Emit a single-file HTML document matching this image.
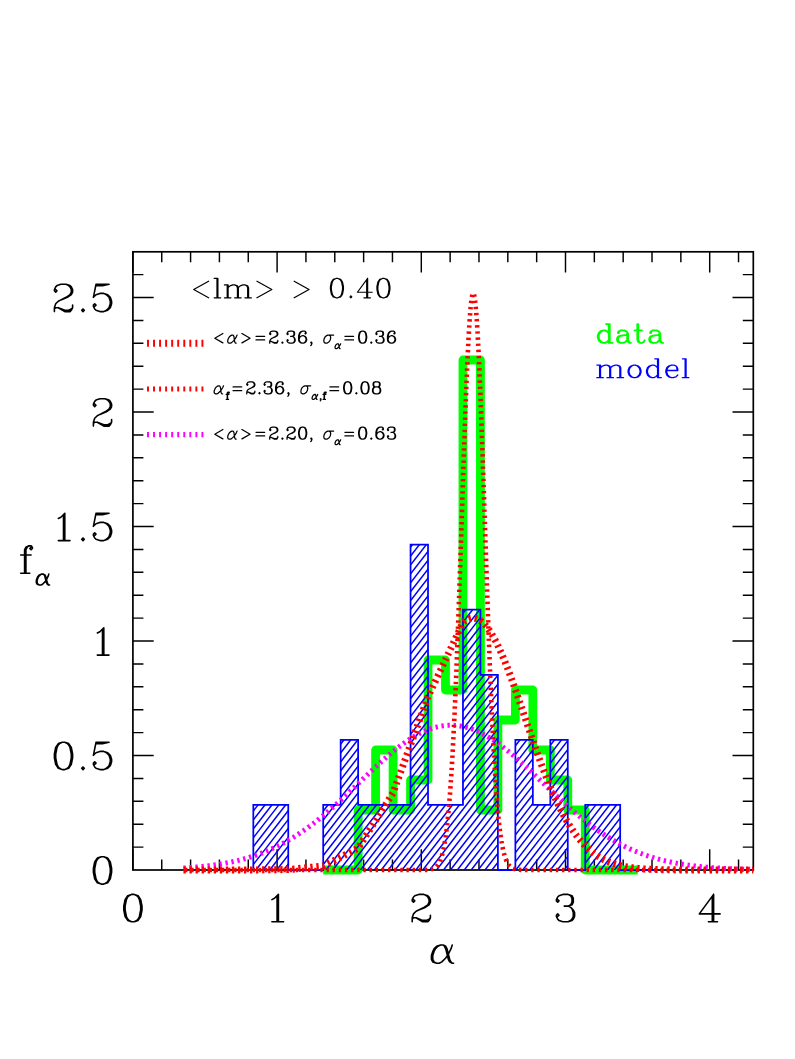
<!DOCTYPE html>
<html lang="en"><head><meta charset="utf-8"><title>chart</title><style>html,body{margin:0;padding:0;background:#fff;font-family:"Liberation Sans",sans-serif}svg{display:block}</style></head><body><svg width="795" height="1059" viewBox="0 0 795 1059">
<rect width="795" height="1059" fill="#fff"/>
<defs><clipPath id="fr"><rect x="129.9" y="251.8" width="626.4" height="622.2"/></clipPath>
<clipPath id="bc"><path d="M253.32 870 L253.32 804.93 L270.79 804.93 L288.26 804.93 L288.26 870 L305.73 870 L323.2 870 L323.2 804.93 L340.67 804.93 L340.67 739.86 L358.14 739.86 L358.14 804.93 L375.61 804.93 L393.08 804.93 L410.55 804.93 L410.55 544.65 L428.02 544.65 L428.02 804.93 L445.49 804.93 L462.96 804.93 L462.96 609.72 L480.43 609.72 L480.43 674.79 L497.9 674.79 L497.9 870 L515.37 870 L515.37 739.86 L532.84 739.86 L532.84 804.93 L550.31 804.93 L550.31 739.86 L567.78 739.86 L567.78 870 L585.25 870 L585.25 804.93 L602.72 804.93 L620.19 804.93 L620.19 870 L637.66 870 L655.13 870 Z"/></clipPath></defs>
<path d="M132.9 870 v-20.8 M132.9 251.8 v20.8 M161.74 870 v-10.5 M161.74 251.8 v10.5 M190.58 870 v-10.5 M190.58 251.8 v10.5 M219.42 870 v-10.5 M219.42 251.8 v10.5 M248.26 870 v-10.5 M248.26 251.8 v10.5 M277.1 870 v-20.8 M277.1 251.8 v20.8 M305.94 870 v-10.5 M305.94 251.8 v10.5 M334.78 870 v-10.5 M334.78 251.8 v10.5 M363.62 870 v-10.5 M363.62 251.8 v10.5 M392.46 870 v-10.5 M392.46 251.8 v10.5 M421.3 870 v-20.8 M421.3 251.8 v20.8 M450.14 870 v-10.5 M450.14 251.8 v10.5 M478.98 870 v-10.5 M478.98 251.8 v10.5 M507.82 870 v-10.5 M507.82 251.8 v10.5 M536.66 870 v-10.5 M536.66 251.8 v10.5 M565.5 870 v-20.8 M565.5 251.8 v20.8 M594.34 870 v-10.5 M594.34 251.8 v10.5 M623.18 870 v-10.5 M623.18 251.8 v10.5 M652.02 870 v-10.5 M652.02 251.8 v10.5 M680.86 870 v-10.5 M680.86 251.8 v10.5 M709.7 870 v-20.8 M709.7 251.8 v20.8 M738.54 870 v-10.5 M738.54 251.8 v10.5 M132.9 847.1 h10.5 M753.3 847.1 h-10.5 M132.9 824.2 h10.5 M753.3 824.2 h-10.5 M132.9 801.3 h10.5 M753.3 801.3 h-10.5 M132.9 778.4 h10.5 M753.3 778.4 h-10.5 M132.9 755.5 h20.8 M753.3 755.5 h-20.8 M132.9 732.6 h10.5 M753.3 732.6 h-10.5 M132.9 709.7 h10.5 M753.3 709.7 h-10.5 M132.9 686.8 h10.5 M753.3 686.8 h-10.5 M132.9 663.9 h10.5 M753.3 663.9 h-10.5 M132.9 641 h20.8 M753.3 641 h-20.8 M132.9 618.1 h10.5 M753.3 618.1 h-10.5 M132.9 595.2 h10.5 M753.3 595.2 h-10.5 M132.9 572.3 h10.5 M753.3 572.3 h-10.5 M132.9 549.4 h10.5 M753.3 549.4 h-10.5 M132.9 526.5 h20.8 M753.3 526.5 h-20.8 M132.9 503.6 h10.5 M753.3 503.6 h-10.5 M132.9 480.7 h10.5 M753.3 480.7 h-10.5 M132.9 457.8 h10.5 M753.3 457.8 h-10.5 M132.9 434.9 h10.5 M753.3 434.9 h-10.5 M132.9 412 h20.8 M753.3 412 h-20.8 M132.9 389.1 h10.5 M753.3 389.1 h-10.5 M132.9 366.2 h10.5 M753.3 366.2 h-10.5 M132.9 343.3 h10.5 M753.3 343.3 h-10.5 M132.9 320.4 h10.5 M753.3 320.4 h-10.5 M132.9 297.5 h20.8 M753.3 297.5 h-20.8 M132.9 274.6 h10.5 M753.3 274.6 h-10.5" stroke="#000" stroke-width="1.45" fill="none"/>
<rect x="132.9" y="251.8" width="620.4" height="618.2" fill="none" stroke="#000" stroke-width="1.7"/>
<path d="M323.2 870 L340.67 870 L358.14 870 L358.14 810 L375.61 810 L375.61 750 L393.08 750 L393.08 810 L410.55 810 L410.55 780 L428.02 780 L428.02 660 L445.49 660 L445.49 690 L462.96 690 L462.96 360 L480.43 360 L480.43 810 L497.9 810 L497.9 720 L515.37 720 L515.37 690 L532.84 690 L532.84 750 L550.31 750 L550.31 780 L567.78 780 L567.78 810 L585.25 810 L585.25 870 L602.72 870 L620.19 870 L637.66 870" fill="none" stroke="#00ff00" stroke-width="8.8" stroke-linejoin="round" stroke-linecap="butt"/>
<g clip-path="url(#bc)"><path d="M252.82 526.55 L252.86 526.5 M252.82 535.46 L259.77 526.5 M252.82 544.37 L266.69 526.5 M252.82 553.28 L273.61 526.5 M252.82 562.19 L280.53 526.5 M252.82 571.1 L287.45 526.5 M252.82 580.01 L288.76 533.72 M252.82 588.92 L288.76 542.63 M252.82 597.83 L288.76 551.54 M252.82 606.74 L288.76 560.45 M252.82 615.65 L288.76 569.36 M252.82 624.56 L288.76 578.27 M252.82 633.47 L288.76 587.18 M252.82 642.38 L288.76 596.09 M252.82 651.29 L288.76 605 M252.82 660.2 L288.76 613.91 M252.82 669.11 L288.76 622.82 M252.82 678.02 L288.76 631.73 M252.82 686.93 L288.76 640.64 M252.82 695.84 L288.76 649.55 M252.82 704.75 L288.76 658.46 M252.82 713.66 L288.76 667.37 M252.82 722.57 L288.76 676.28 M252.82 731.48 L288.76 685.19 M252.82 740.39 L288.76 694.1 M252.82 749.3 L288.76 703.01 M252.82 758.21 L288.76 711.92 M252.82 767.12 L288.76 720.83 M252.82 776.03 L288.76 729.74 M252.82 784.94 L288.76 738.65 M252.82 793.85 L288.76 747.56 M252.82 802.76 L288.76 756.47 M252.82 811.67 L288.76 765.38 M252.82 820.58 L288.76 774.29 M252.82 829.49 L288.76 783.2 M252.82 838.4 L288.76 792.11 M252.82 847.31 L288.76 801.02 M252.82 856.22 L288.76 809.93 M252.82 865.13 L288.76 818.84 M255.95 870 L288.76 827.75 M262.87 870 L288.76 836.66 M269.79 870 L288.76 845.57 M276.71 870 L288.76 854.48 M283.63 870 L288.76 863.39 M322.7 526.64 L322.81 526.5 M322.7 535.55 L329.73 526.5 M322.7 544.46 L336.65 526.5 M322.7 553.37 L343.56 526.5 M322.7 562.28 L350.48 526.5 M322.7 571.19 L357.4 526.5 M322.7 580.1 L364.32 526.5 M322.7 589.01 L371.23 526.5 M322.7 597.92 L378.15 526.5 M322.7 606.83 L385.07 526.5 M322.7 615.74 L391.99 526.5 M322.7 624.65 L398.91 526.5 M322.7 633.56 L405.82 526.5 M322.7 642.47 L412.74 526.5 M322.7 651.38 L419.66 526.5 M322.7 660.29 L426.58 526.5 M322.7 669.2 L433.49 526.5 M322.7 678.11 L440.41 526.5 M322.7 687.02 L447.33 526.5 M322.7 695.93 L454.25 526.5 M322.7 704.84 L461.16 526.5 M322.7 713.75 L468.08 526.5 M322.7 722.66 L475 526.5 M322.7 731.57 L481.92 526.5 M322.7 740.48 L488.84 526.5 M322.7 749.39 L495.75 526.5 M322.7 758.3 L498.4 532 M322.7 767.21 L498.4 540.91 M322.7 776.12 L498.4 549.82 M322.7 785.03 L498.4 558.73 M322.7 793.94 L498.4 567.64 M322.7 802.85 L498.4 576.55 M322.7 811.76 L498.4 585.46 M322.7 820.67 L498.4 594.37 M322.7 829.58 L498.4 603.28 M322.7 838.49 L498.4 612.19 M322.7 847.4 L498.4 621.1 M322.7 856.31 L498.4 630.01 M322.7 865.22 L498.4 638.92 M325.91 870 L498.4 647.83 M332.83 870 L498.4 656.74 M339.74 870 L498.4 665.65 M346.66 870 L498.4 674.56 M353.58 870 L498.4 683.47 M360.5 870 L498.4 692.38 M367.41 870 L498.4 701.29 M374.33 870 L498.4 710.2 M381.25 870 L498.4 719.11 M388.17 870 L498.4 728.02 M395.09 870 L498.4 736.93 M402 870 L498.4 745.84 M408.92 870 L498.4 754.75 M415.84 870 L498.4 763.66 M422.76 870 L498.4 772.57 M429.67 870 L498.4 781.48 M436.59 870 L498.4 790.39 M443.51 870 L498.4 799.3 M450.43 870 L498.4 808.21 M457.34 870 L498.4 817.12 M464.26 870 L498.4 826.03 M471.18 870 L498.4 834.94 M478.1 870 L498.4 843.85 M485.02 870 L498.4 852.76 M491.93 870 L498.4 861.67 M514.87 532.61 L519.61 526.5 M514.87 541.52 L526.53 526.5 M514.87 550.43 L533.45 526.5 M514.87 559.34 L540.36 526.5 M514.87 568.25 L547.28 526.5 M514.87 577.16 L554.2 526.5 M514.87 586.07 L561.12 526.5 M514.87 594.98 L568.04 526.5 M514.87 603.89 L568.28 535.1 M514.87 612.8 L568.28 544.01 M514.87 621.71 L568.28 552.92 M514.87 630.62 L568.28 561.83 M514.87 639.53 L568.28 570.74 M514.87 648.44 L568.28 579.65 M514.87 657.35 L568.28 588.56 M514.87 666.26 L568.28 597.47 M514.87 675.17 L568.28 606.38 M514.87 684.08 L568.28 615.29 M514.87 692.99 L568.28 624.2 M514.87 701.9 L568.28 633.11 M514.87 710.81 L568.28 642.02 M514.87 719.72 L568.28 650.93 M514.87 728.63 L568.28 659.84 M514.87 737.54 L568.28 668.75 M514.87 746.45 L568.28 677.66 M514.87 755.36 L568.28 686.57 M514.87 764.27 L568.28 695.48 M514.87 773.18 L568.28 704.39 M514.87 782.09 L568.28 713.3 M514.87 791 L568.28 722.21 M514.87 799.91 L568.28 731.12 M514.87 808.82 L568.28 740.03 M514.87 817.73 L568.28 748.94 M514.87 826.64 L568.28 757.85 M514.87 835.55 L568.28 766.76 M514.87 844.46 L568.28 775.67 M514.87 853.37 L568.28 784.58 M514.87 862.28 L568.28 793.49 M515.79 870 L568.28 802.4 M522.71 870 L568.28 811.31 M529.63 870 L568.28 820.22 M536.55 870 L568.28 829.13 M543.46 870 L568.28 838.04 M550.38 870 L568.28 846.95 M557.3 870 L568.28 855.86 M564.22 870 L568.28 864.77 M584.75 534.01 L590.58 526.5 M584.75 542.92 L597.5 526.5 M584.75 551.83 L604.42 526.5 M584.75 560.74 L611.34 526.5 M584.75 569.65 L618.25 526.5 M584.75 578.56 L620.69 532.27 M584.75 587.47 L620.69 541.18 M584.75 596.38 L620.69 550.09 M584.75 605.29 L620.69 559 M584.75 614.2 L620.69 567.91 M584.75 623.11 L620.69 576.82 M584.75 632.02 L620.69 585.73 M584.75 640.93 L620.69 594.64 M584.75 649.84 L620.69 603.55 M584.75 658.75 L620.69 612.46 M584.75 667.66 L620.69 621.37 M584.75 676.57 L620.69 630.28 M584.75 685.48 L620.69 639.19 M584.75 694.39 L620.69 648.1 M584.75 703.3 L620.69 657.01 M584.75 712.21 L620.69 665.92 M584.75 721.12 L620.69 674.83 M584.75 730.03 L620.69 683.74 M584.75 738.94 L620.69 692.65 M584.75 747.85 L620.69 701.56 M584.75 756.76 L620.69 710.47 M584.75 765.67 L620.69 719.38 M584.75 774.58 L620.69 728.29 M584.75 783.49 L620.69 737.2 M584.75 792.4 L620.69 746.11 M584.75 801.31 L620.69 755.02 M584.75 810.22 L620.69 763.93 M584.75 819.13 L620.69 772.84 M584.75 828.04 L620.69 781.75 M584.75 836.95 L620.69 790.66 M584.75 845.86 L620.69 799.57 M584.75 854.77 L620.69 808.48 M584.75 863.68 L620.69 817.39 M586.76 870 L620.69 826.3 M593.68 870 L620.69 835.21 M600.6 870 L620.69 844.12 M607.52 870 L620.69 853.03 M614.43 870 L620.69 861.94" stroke="#0000ff" stroke-width="1.5" fill="none"/></g>
<path d="M253.32 870 L253.32 804.93 L270.79 804.93 L288.26 804.93 L288.26 870 L305.73 870 L323.2 870 L323.2 804.93 L340.67 804.93 L340.67 739.86 L358.14 739.86 L358.14 804.93 L375.61 804.93 L393.08 804.93 L410.55 804.93 L410.55 544.65 L428.02 544.65 L428.02 804.93 L445.49 804.93 L462.96 804.93 L462.96 609.72 L480.43 609.72 L480.43 674.79 L497.9 674.79 L497.9 870 L515.37 870 L515.37 739.86 L532.84 739.86 L532.84 804.93 L550.31 804.93 L550.31 739.86 L567.78 739.86 L567.78 870 L585.25 870 L585.25 804.93 L602.72 804.93 L620.19 804.93 L620.19 870 L637.66 870 L655.13 870" fill="none" stroke="#0000ff" stroke-width="1.75" stroke-linejoin="miter"/>
<g clip-path="url(#fr)" fill="none" stroke-dasharray="2.35 3.7">
<path d="M183.44 868.02 L184.44 867.96 L185.44 867.89 L186.44 867.82 L187.44 867.75 L188.44 867.68 L189.44 867.6 L190.44 867.53 L191.44 867.45 L192.44 867.37 L193.44 867.29 L194.44 867.2 L195.44 867.11 L196.44 867.02 L197.44 866.93 L198.44 866.84 L199.44 866.74 L200.44 866.64 L201.44 866.54 L202.44 866.43 L203.44 866.33 L204.44 866.22 L205.44 866.1 L206.44 865.99 L207.44 865.87 L208.44 865.74 L209.44 865.62 L210.44 865.49 L211.44 865.36 L212.44 865.22 L213.44 865.09 L214.44 864.94 L215.44 864.8 L216.44 864.65 L217.44 864.5 L218.44 864.34 L219.44 864.18 L220.44 864.02 L221.44 863.85 L222.44 863.68 L223.44 863.5 L224.44 863.33 L225.44 863.14 L226.44 862.95 L227.44 862.76 L228.44 862.57 L229.44 862.37 L230.44 862.16 L231.44 861.95 L232.44 861.74 L233.44 861.52 L234.44 861.29 L235.44 861.07 L236.44 860.83 L237.44 860.59 L238.44 860.35 L239.44 860.1 L240.44 859.85 L241.44 859.59 L242.44 859.32 L243.44 859.05 L244.44 858.78 L245.44 858.5 L246.44 858.21 L247.44 857.92 L248.44 857.62 L249.44 857.32 L250.44 857.01 L251.44 856.69 L252.44 856.37 L253.44 856.04 L254.44 855.71 L255.44 855.37 L256.44 855.02 L257.44 854.67 L258.44 854.31 L259.44 853.95 L260.44 853.57 L261.44 853.2 L262.44 852.81 L263.44 852.42 L264.44 852.02 L265.44 851.61 L266.44 851.2 L267.44 850.78 L268.44 850.35 L269.44 849.92 L270.44 849.48 L271.44 849.03 L272.44 848.58 L273.44 848.11 L274.44 847.65 L275.44 847.17 L276.44 846.68 L277.44 846.19 L278.44 845.69 L279.44 845.19 L280.44 844.67 L281.44 844.15 L282.44 843.62 L283.44 843.08 L284.44 842.54 L285.44 841.99 L286.44 841.43 L287.44 840.86 L288.44 840.28 L289.44 839.7 L290.44 839.11 L291.44 838.51 L292.44 837.9 L293.44 837.29 L294.44 836.67 L295.44 836.04 L296.44 835.4 L297.44 834.76 L298.44 834.1 L299.44 833.44 L300.44 832.77 L301.44 832.1 L302.44 831.41 L303.44 830.72 L304.44 830.02 L305.44 829.32 L306.44 828.6 L307.44 827.88 L308.44 827.15 L309.44 826.42 L310.44 825.67 L311.44 824.92 L312.44 824.17 L313.44 823.4 L314.44 822.63 L315.44 821.85 L316.44 821.06 L317.44 820.27 L318.44 819.47 L319.44 818.66 L320.44 817.85 L321.44 817.03 L322.44 816.21 L323.44 815.37 L324.44 814.54 L325.44 813.69 L326.44 812.84 L327.44 811.98 L328.44 811.12 L329.44 810.25 L330.44 809.38 L331.44 808.5 L332.44 807.62 L333.44 806.73 L334.44 805.83 L335.44 804.93 L336.44 804.03 L337.44 803.12 L338.44 802.21 L339.44 801.29 L340.44 800.37 L341.44 799.45 L342.44 798.52 L343.44 797.59 L344.44 796.65 L345.44 795.71 L346.44 794.77 L347.44 793.83 L348.44 792.88 L349.44 791.93 L350.44 790.98 L351.44 790.03 L352.44 789.07 L353.44 788.12 L354.44 787.16 L355.44 786.2 L356.44 785.24 L357.44 784.28 L358.44 783.32 L359.44 782.35 L360.44 781.39 L361.44 780.43 L362.44 779.47 L363.44 778.51 L364.44 777.55 L365.44 776.59 L366.44 775.64 L367.44 774.68 L368.44 773.73 L369.44 772.78 L370.44 771.83 L371.44 770.88 L372.44 769.94 L373.44 769 L374.44 768.06 L375.44 767.13 L376.44 766.2 L377.44 765.27 L378.44 764.35 L379.44 763.44 L380.44 762.53 L381.44 761.62 L382.44 760.72 L383.44 759.83 L384.44 758.94 L385.44 758.05 L386.44 757.18 L387.44 756.31 L388.44 755.45 L389.44 754.59 L390.44 753.75 L391.44 752.91 L392.44 752.08 L393.44 751.25 L394.44 750.44 L395.44 749.63 L396.44 748.84 L397.44 748.05 L398.44 747.27 L399.44 746.51 L400.44 745.75 L401.44 745 L402.44 744.27 L403.44 743.54 L404.44 742.83 L405.44 742.13 L406.44 741.43 L407.44 740.75 L408.44 740.09 L409.44 739.43 L410.44 738.79 L411.44 738.16 L412.44 737.54 L413.44 736.94 L414.44 736.35 L415.44 735.77 L416.44 735.21 L417.44 734.66 L418.44 734.12 L419.44 733.6 L420.44 733.09 L421.44 732.6 L422.44 732.12 L423.44 731.66 L424.44 731.21 L425.44 730.78 L426.44 730.36 L427.44 729.96 L428.44 729.57 L429.44 729.2 L430.44 728.85 L431.44 728.51 L432.44 728.19 L433.44 727.88 L434.44 727.6 L435.44 727.32 L436.44 727.07 L437.44 726.83 L438.44 726.61 L439.44 726.4 L440.44 726.21 L441.44 726.04 L442.44 725.89 L443.44 725.75 L444.44 725.63 L445.44 725.53 L446.44 725.44 L447.44 725.37 L448.44 725.32 L449.44 725.29 L450.44 725.27 L451.44 725.27 L452.44 725.29 L453.44 725.33 L454.44 725.38 L455.44 725.45 L456.44 725.54 L457.44 725.65 L458.44 725.77 L459.44 725.91 L460.44 726.07 L461.44 726.24 L462.44 726.43 L463.44 726.64 L464.44 726.86 L465.44 727.11 L466.44 727.36 L467.44 727.64 L468.44 727.93 L469.44 728.24 L470.44 728.56 L471.44 728.9 L472.44 729.26 L473.44 729.63 L474.44 730.02 L475.44 730.43 L476.44 730.84 L477.44 731.28 L478.44 731.73 L479.44 732.19 L480.44 732.67 L481.44 733.17 L482.44 733.68 L483.44 734.2 L484.44 734.74 L485.44 735.29 L486.44 735.86 L487.44 736.44 L488.44 737.03 L489.44 737.64 L490.44 738.26 L491.44 738.89 L492.44 739.53 L493.44 740.19 L494.44 740.86 L495.44 741.54 L496.44 742.24 L497.44 742.94 L498.44 743.66 L499.44 744.38 L500.44 745.12 L501.44 745.87 L502.44 746.63 L503.44 747.4 L504.44 748.18 L505.44 748.96 L506.44 749.76 L507.44 750.57 L508.44 751.38 L509.44 752.21 L510.44 753.04 L511.44 753.88 L512.44 754.73 L513.44 755.58 L514.44 756.45 L515.44 757.32 L516.44 758.19 L517.44 759.08 L518.44 759.97 L519.44 760.86 L520.44 761.76 L521.44 762.67 L522.44 763.58 L523.44 764.5 L524.44 765.42 L525.44 766.34 L526.44 767.27 L527.44 768.21 L528.44 769.15 L529.44 770.09 L530.44 771.03 L531.44 771.98 L532.44 772.93 L533.44 773.88 L534.44 774.83 L535.44 775.79 L536.44 776.74 L537.44 777.7 L538.44 778.66 L539.44 779.62 L540.44 780.58 L541.44 781.55 L542.44 782.51 L543.44 783.47 L544.44 784.43 L545.44 785.39 L546.44 786.35 L547.44 787.31 L548.44 788.27 L549.44 789.22 L550.44 790.18 L551.44 791.13 L552.44 792.08 L553.44 793.03 L554.44 793.98 L555.44 794.92 L556.44 795.86 L557.44 796.8 L558.44 797.74 L559.44 798.67 L560.44 799.59 L561.44 800.52 L562.44 801.44 L563.44 802.36 L564.44 803.27 L565.44 804.17 L566.44 805.08 L567.44 805.98 L568.44 806.87 L569.44 807.76 L570.44 808.64 L571.44 809.52 L572.44 810.39 L573.44 811.26 L574.44 812.12 L575.44 812.98 L576.44 813.82 L577.44 814.67 L578.44 815.51 L579.44 816.34 L580.44 817.16 L581.44 817.98 L582.44 818.79 L583.44 819.6 L584.44 820.4 L585.44 821.19 L586.44 821.97 L587.44 822.75 L588.44 823.52 L589.44 824.29 L590.44 825.04 L591.44 825.79 L592.44 826.54 L593.44 827.27 L594.44 828 L595.44 828.72 L596.44 829.43 L597.44 830.14 L598.44 830.83 L599.44 831.52 L600.44 832.21 L601.44 832.88 L602.44 833.55 L603.44 834.21 L604.44 834.86 L605.44 835.5 L606.44 836.14 L607.44 836.77 L608.44 837.39 L609.44 838 L610.44 838.61 L611.44 839.2 L612.44 839.79 L613.44 840.37 L614.44 840.95 L615.44 841.51 L616.44 842.07 L617.44 842.62 L618.44 843.17 L619.44 843.7 L620.44 844.23 L621.44 844.75 L622.44 845.27 L623.44 845.77 L624.44 846.27 L625.44 846.76 L626.44 847.24 L627.44 847.72 L628.44 848.19 L629.44 848.65 L630.44 849.1 L631.44 849.55 L632.44 849.99 L633.44 850.42 L634.44 850.85 L635.44 851.27 L636.44 851.68 L637.44 852.08 L638.44 852.48 L639.44 852.87 L640.44 853.26 L641.44 853.63 L642.44 854 L643.44 854.37 L644.44 854.73 L645.44 855.08 L646.44 855.42 L647.44 855.76 L648.44 856.1 L649.44 856.42 L650.44 856.74 L651.44 857.06 L652.44 857.37 L653.44 857.67 L654.44 857.97 L655.44 858.26 L656.44 858.54 L657.44 858.82 L658.44 859.1 L659.44 859.37 L660.44 859.63 L661.44 859.89 L662.44 860.14 L663.44 860.39 L664.44 860.63 L665.44 860.87 L666.44 861.1 L667.44 861.33 L668.44 861.55 L669.44 861.77 L670.44 861.98 L671.44 862.19 L672.44 862.4 L673.44 862.6 L674.44 862.79 L675.44 862.98 L676.44 863.17 L677.44 863.35 L678.44 863.53 L679.44 863.71 L680.44 863.88 L681.44 864.04 L682.44 864.21 L683.44 864.37 L684.44 864.52 L685.44 864.67 L686.44 864.82 L687.44 864.97 L688.44 865.11 L689.44 865.25 L690.44 865.38 L691.44 865.51 L692.44 865.64 L693.44 865.76 L694.44 865.89 L695.44 866 L696.44 866.12 L697.44 866.23 L698.44 866.34 L699.44 866.45 L700.44 866.56 L701.44 866.66 L702.44 866.76 L703.44 866.85 L704.44 866.95 L705.44 867.04 L706.44 867.13 L707.44 867.22 L708.44 867.3 L709.44 867.38 L710.44 867.46 L711.44 867.54 L712.44 867.62 L713.44 867.69 L714.44 867.76 L715.44 867.83 L716.44 867.9 L717.44 867.97 L718.44 868.03 L719.44 868.09 L720.44 868.15 L721.44 868.21 L722.44 868.27 L723.44 868.32 L724.44 868.38 L725.44 868.43 L726.44 868.48 L727.44 868.53 L728.44 868.58 L729.44 868.63 L730.44 868.67 L731.44 868.72 L732.44 868.76 L733.44 868.8 L734.44 868.84 L735.44 868.88 L736.44 868.92 L737.44 868.95 L738.44 868.99 L739.44 869.02 L740.44 869.06 L741.44 869.09 L742.44 869.12 L743.44 869.15 L744.44 869.18 L745.44 869.21 L746.44 869.24 L747.44 869.26 L748.44 869.29 L749.44 869.31 L750.44 869.34 L751.44 869.36 L752.44 869.38 L753.3 869.4" stroke="#ff00ff" stroke-width="5.0"/>
<path d="M183.44 870 L184.44 870 L185.44 870 L186.44 870 L187.44 870 L188.44 870 L189.44 870 L190.44 870 L191.44 870 L192.44 870 L193.44 870 L194.44 870 L195.44 870 L196.44 870 L197.44 870 L198.44 870 L199.44 870 L200.44 870 L201.44 870 L202.44 870 L203.44 870 L204.44 870 L205.44 870 L206.44 870 L207.44 870 L208.44 870 L209.44 870 L210.44 870 L211.44 870 L212.44 870 L213.44 870 L214.44 870 L215.44 870 L216.44 870 L217.44 870 L218.44 870 L219.44 870 L220.44 870 L221.44 870 L222.44 870 L223.44 870 L224.44 870 L225.44 870 L226.44 870 L227.44 870 L228.44 870 L229.44 870 L230.44 870 L231.44 870 L232.44 870 L233.44 870 L234.44 870 L235.44 870 L236.44 870 L237.44 870 L238.44 870 L239.44 870 L240.44 870 L241.44 870 L242.44 870 L243.44 870 L244.44 870 L245.44 870 L246.44 870 L247.44 870 L248.44 870 L249.44 870 L250.44 870 L251.44 870 L252.44 870 L253.44 870 L254.44 870 L255.44 870 L256.44 870 L257.44 870 L258.44 870 L259.44 870 L260.44 870 L261.44 870 L262.44 870 L263.44 870 L264.44 870 L265.44 870 L266.44 870 L267.44 870 L268.44 870 L269.44 870 L270.44 870 L271.44 870 L272.44 870 L273.44 870 L274.44 870 L275.44 870 L276.44 870 L277.44 870 L278.44 870 L279.44 870 L280.44 870 L281.44 870 L282.44 870 L283.44 870 L284.44 870 L285.44 870 L286.44 870 L287.44 870 L288.44 870 L289.44 870 L290.44 870 L291.44 870 L292.44 870 L293.44 870 L294.44 870 L295.44 870 L296.44 870 L297.44 870 L298.44 870 L299.44 870 L300.44 870 L301.44 870 L302.44 870 L303.44 870 L304.44 870 L305.44 870 L306.44 870 L307.44 870 L308.44 870 L309.44 870 L310.44 870 L311.44 870 L312.44 870 L313.44 870 L314.44 870 L315.44 870 L316.44 870 L317.44 870 L318.44 870 L319.44 870 L320.44 870 L321.44 870 L322.44 870 L323.44 870 L324.44 870 L325.44 870 L326.44 870 L327.44 870 L328.44 870 L329.44 870 L330.44 870 L331.44 870 L332.44 870 L333.44 870 L334.44 870 L335.44 870 L336.44 870 L337.44 870 L338.44 870 L339.44 870 L340.44 870 L341.44 870 L342.44 870 L343.44 870 L344.44 870 L345.44 870 L346.44 870 L347.44 870 L348.44 870 L349.44 870 L350.44 870 L351.44 870 L352.44 870 L353.44 870 L354.44 870 L355.44 870 L356.44 870 L357.44 870 L358.44 870 L359.44 870 L360.44 870 L361.44 870 L362.44 870 L363.44 870 L364.44 870 L365.44 870 L366.44 870 L367.44 870 L368.44 870 L369.44 870 L370.44 870 L371.44 870 L372.44 870 L373.44 870 L374.44 870 L375.44 870 L376.44 870 L377.44 870 L378.44 870 L379.44 870 L380.44 870 L381.44 870 L382.44 870 L383.44 870 L384.44 870 L385.44 870 L386.44 870 L387.44 870 L388.44 870 L389.44 870 L390.44 870 L391.44 870 L392.44 870 L393.44 870 L394.44 870 L395.44 870 L396.44 870 L397.44 870 L398.44 870 L399.44 870 L400.44 870 L401.44 870 L402.44 870 L403.44 870 L404.44 870 L405.44 870 L406.44 870 L407.44 870 L408.44 870 L409.44 870 L410.44 870 L411.44 870 L412.44 870 L413.44 870 L414.44 870 L415.44 870 L416.44 870 L417.44 870 L418.44 869.99 L419.44 869.99 L420.44 869.98 L421.44 869.98 L422.44 869.96 L423.44 869.95 L424.44 869.92 L425.44 869.89 L426.44 869.84 L427.44 869.78 L428.44 869.69 L429.44 869.57 L430.44 869.4 L431.44 869.18 L432.44 868.88 L433.44 868.49 L434.44 867.97 L435.44 867.29 L436.44 866.41 L437.44 865.29 L438.44 863.86 L439.44 862.05 L440.44 859.8 L441.44 857 L442.44 853.55 L443.44 849.35 L444.44 844.27 L445.44 838.18 L446.44 830.94 L447.44 822.42 L448.44 812.47 L449.44 800.95 L450.44 787.76 L451.44 772.78 L452.44 755.92 L453.44 737.15 L454.44 716.45 L455.44 693.86 L456.44 669.44 L457.44 643.36 L458.44 615.8 L459.44 587.02 L460.44 557.35 L461.44 527.14 L462.44 496.84 L463.44 466.89 L464.44 437.81 L465.44 410.09 L466.44 384.26 L467.44 360.82 L468.44 340.24 L469.44 322.96 L470.44 309.34 L471.44 299.69 L472.44 294.21 L473.44 293.03 L474.44 296.18 L475.44 303.58 L476.44 315.08 L477.44 330.41 L478.44 349.24 L479.44 371.18 L480.44 395.77 L481.44 422.52 L482.44 450.93 L483.44 480.47 L484.44 510.64 L485.44 540.95 L486.44 570.97 L487.44 600.28 L488.44 628.53 L489.44 655.45 L490.44 680.79 L491.44 704.39 L492.44 726.13 L493.44 745.95 L494.44 763.85 L495.44 779.84 L496.44 793.99 L497.44 806.4 L498.44 817.19 L499.44 826.47 L500.44 834.39 L501.44 841.09 L502.44 846.7 L503.44 851.37 L504.44 855.21 L505.44 858.35 L506.44 860.89 L507.44 862.93 L508.44 864.55 L509.44 865.83 L510.44 866.84 L511.44 867.62 L512.44 868.22 L513.44 868.68 L514.44 869.03 L515.44 869.29 L516.44 869.48 L517.44 869.63 L518.44 869.73 L519.44 869.81 L520.44 869.87 L521.44 869.91 L522.44 869.94 L523.44 869.96 L524.44 869.97 L525.44 869.98 L526.44 869.99 L527.44 869.99 L528.44 869.99 L529.44 870 L530.44 870 L531.44 870 L532.44 870 L533.44 870 L534.44 870 L535.44 870 L536.44 870 L537.44 870 L538.44 870 L539.44 870 L540.44 870 L541.44 870 L542.44 870 L543.44 870 L544.44 870 L545.44 870 L546.44 870 L547.44 870 L548.44 870 L549.44 870 L550.44 870 L551.44 870 L552.44 870 L553.44 870 L554.44 870 L555.44 870 L556.44 870 L557.44 870 L558.44 870 L559.44 870 L560.44 870 L561.44 870 L562.44 870 L563.44 870 L564.44 870 L565.44 870 L566.44 870 L567.44 870 L568.44 870 L569.44 870 L570.44 870 L571.44 870 L572.44 870 L573.44 870 L574.44 870 L575.44 870 L576.44 870 L577.44 870 L578.44 870 L579.44 870 L580.44 870 L581.44 870 L582.44 870 L583.44 870 L584.44 870 L585.44 870 L586.44 870 L587.44 870 L588.44 870 L589.44 870 L590.44 870 L591.44 870 L592.44 870 L593.44 870 L594.44 870 L595.44 870 L596.44 870 L597.44 870 L598.44 870 L599.44 870 L600.44 870 L601.44 870 L602.44 870 L603.44 870 L604.44 870 L605.44 870 L606.44 870 L607.44 870 L608.44 870 L609.44 870 L610.44 870 L611.44 870 L612.44 870 L613.44 870 L614.44 870 L615.44 870 L616.44 870 L617.44 870 L618.44 870 L619.44 870 L620.44 870 L621.44 870 L622.44 870 L623.44 870 L624.44 870 L625.44 870 L626.44 870 L627.44 870 L628.44 870 L629.44 870 L630.44 870 L631.44 870 L632.44 870 L633.44 870 L634.44 870 L635.44 870 L636.44 870 L637.44 870 L638.44 870 L639.44 870 L640.44 870 L641.44 870 L642.44 870 L643.44 870 L644.44 870 L645.44 870 L646.44 870 L647.44 870 L648.44 870 L649.44 870 L650.44 870 L651.44 870 L652.44 870 L653.44 870 L654.44 870 L655.44 870 L656.44 870 L657.44 870 L658.44 870 L659.44 870 L660.44 870 L661.44 870 L662.44 870 L663.44 870 L664.44 870 L665.44 870 L666.44 870 L667.44 870 L668.44 870 L669.44 870 L670.44 870 L671.44 870 L672.44 870 L673.44 870 L674.44 870 L675.44 870 L676.44 870 L677.44 870 L678.44 870 L679.44 870 L680.44 870 L681.44 870 L682.44 870 L683.44 870 L684.44 870 L685.44 870 L686.44 870 L687.44 870 L688.44 870 L689.44 870 L690.44 870 L691.44 870 L692.44 870 L693.44 870 L694.44 870 L695.44 870 L696.44 870 L697.44 870 L698.44 870 L699.44 870 L700.44 870 L701.44 870 L702.44 870 L703.44 870 L704.44 870 L705.44 870 L706.44 870 L707.44 870 L708.44 870 L709.44 870 L710.44 870 L711.44 870 L712.44 870 L713.44 870 L714.44 870 L715.44 870 L716.44 870 L717.44 870 L718.44 870 L719.44 870 L720.44 870 L721.44 870 L722.44 870 L723.44 870 L724.44 870 L725.44 870 L726.44 870 L727.44 870 L728.44 870 L729.44 870 L730.44 870 L731.44 870 L732.44 870 L733.44 870 L734.44 870 L735.44 870 L736.44 870 L737.44 870 L738.44 870 L739.44 870 L740.44 870 L741.44 870 L742.44 870 L743.44 870 L744.44 870 L745.44 870 L746.44 870 L747.44 870 L748.44 870 L749.44 870 L750.44 870 L751.44 870 L752.44 870 L753.3 870" stroke="#ff0000" stroke-width="4.6" stroke-dasharray="2.4 3.75" stroke-dashoffset="-1.6"/>
<path d="M183.44 870 L218.38 870 L253.32 869.97 L288.26 869.55 L323.2 866.07 L358.14 848.14 L393.08 792.81 L428.02 696.72 L462.96 622.7 L464.44 621.44 L465.44 620.7 L466.44 620.06 L467.44 619.5 L468.44 619.04 L469.44 618.67 L470.44 618.39 L471.44 618.2 L472.44 618.11 L473.44 618.11 L474.44 618.21 L475.44 618.4 L476.44 618.68 L477.44 619.05 L478.44 619.52 L479.44 620.08 L480.44 620.73 L481.44 621.47 L482.44 622.3 L483.44 623.22 L484.44 624.22 L485.44 625.32 L486.44 626.5 L487.44 627.76 L488.44 629.1 L489.44 630.53 L490.44 632.04 L491.44 633.63 L492.44 635.29 L493.44 637.02 L494.44 638.83 L495.44 640.71 L496.44 642.66 L497.44 644.68 L498.44 646.76 L499.44 648.91 L500.44 651.11 L501.44 653.38 L502.44 655.7 L503.44 658.07 L504.44 660.5 L505.44 662.97 L506.44 665.49 L507.44 668.06 L508.44 670.66 L509.44 673.31 L510.44 675.99 L511.44 678.71 L512.44 681.46 L513.44 684.24 L514.44 687.05 L515.44 689.88 L516.44 692.73 L517.44 695.6 L518.44 698.49 L519.44 701.39 L520.44 704.31 L521.44 707.24 L522.44 710.17 L523.44 713.11 L524.44 716.05 L525.44 718.99 L526.44 721.94 L527.44 724.87 L528.44 727.81 L529.44 730.73 L530.44 733.65 L531.44 736.55 L532.44 739.44 L533.44 742.32 L534.44 745.18 L535.44 748.02 L536.44 750.84 L537.44 753.63 L538.44 756.41 L539.44 759.16 L540.44 761.88 L541.44 764.57 L542.44 767.24 L543.44 769.87 L544.44 772.48 L545.44 775.05 L546.44 777.59 L547.44 780.09 L548.44 782.56 L549.44 784.99 L550.44 787.39 L551.44 789.74 L552.44 792.06 L553.44 794.34 L554.44 796.58 L555.44 798.78 L556.44 800.95 L557.44 803.06 L558.44 805.14 L559.44 807.18 L560.44 809.18 L561.44 811.13 L562.44 813.04 L563.44 814.92 L564.44 816.74 L565.44 818.53 L566.44 820.28 L567.44 821.98 L568.44 823.65 L569.44 825.27 L570.44 826.85 L571.44 828.39 L572.44 829.89 L573.44 831.35 L574.44 832.78 L575.44 834.16 L576.44 835.5 L577.44 836.81 L578.44 838.08 L579.44 839.31 L580.44 840.5 L581.44 841.66 L582.44 842.79 L583.44 843.88 L584.44 844.93 L585.44 845.95 L586.44 846.94 L587.44 847.89 L588.44 848.82 L589.44 849.71 L590.44 850.57 L591.44 851.4 L592.44 852.21 L593.44 852.98 L594.44 853.73 L595.44 854.45 L596.44 855.14 L597.44 855.81 L598.44 856.46 L599.44 857.07 L600.44 857.67 L601.44 858.24 L602.44 858.79 L603.44 859.32 L604.44 859.83 L605.44 860.31 L606.44 860.78 L607.44 861.23 L608.44 861.65 L609.44 862.07 L610.44 862.46 L611.44 862.84 L612.44 863.2 L613.44 863.54 L614.44 863.87 L615.44 864.18 L616.44 864.48 L617.44 864.77 L618.44 865.05 L619.44 865.31 L620.44 865.56 L621.44 865.79 L622.44 866.02 L623.44 866.24 L624.44 866.44 L625.44 866.64 L626.44 866.82 L627.44 867 L628.44 867.17 L629.44 867.33 L630.44 867.48 L631.44 867.62 L632.44 867.76 L633.44 867.89 L634.44 868.01 L635.44 868.12 L636.44 868.23 L637.44 868.34 L638.44 868.44 L639.44 868.53 L640.44 868.62 L641.44 868.7 L642.44 868.78 L643.44 868.86 L644.44 868.93 L645.44 868.99 L646.44 869.06 L647.44 869.11 L648.44 869.17 L649.44 869.22 L650.44 869.27 L651.44 869.32 L652.44 869.36 L653.44 869.4 L654.44 869.44 L655.44 869.48 L656.44 869.51 L657.44 869.55 L658.44 869.58 L659.44 869.6 L660.44 869.63 L661.44 869.66 L662.44 869.68 L663.44 869.7 L664.44 869.72 L665.44 869.74 L666.44 869.76 L667.44 869.77 L668.44 869.79 L669.44 869.81 L670.44 869.82 L671.44 869.83 L672.44 869.84 L673.44 869.85 L674.44 869.87 L675.44 869.88 L676.44 869.88 L677.44 869.89 L678.44 869.9 L679.44 869.91 L680.44 869.91 L681.44 869.92 L682.44 869.93 L683.44 869.93 L684.44 869.94 L685.44 869.94 L686.44 869.95 L687.44 869.95 L688.44 869.95 L689.44 869.96 L690.44 869.96 L691.44 869.96 L692.44 869.97 L693.44 869.97 L694.44 869.97 L695.44 869.97 L696.44 869.98 L697.44 869.98 L698.44 869.98 L699.44 869.98 L700.44 869.98 L701.44 869.98 L702.44 869.99 L703.44 869.99 L704.44 869.99 L705.44 869.99 L706.44 869.99 L707.44 869.99 L708.44 869.99 L709.44 869.99 L710.44 869.99 L711.44 869.99 L712.44 869.99 L713.44 869.99 L714.44 869.99 L715.44 870 L716.44 870 L717.44 870 L718.44 870 L719.44 870 L720.44 870 L721.44 870 L722.44 870 L723.44 870 L724.44 870 L725.44 870 L726.44 870 L727.44 870 L728.44 870 L729.44 870 L730.44 870 L731.44 870 L732.44 870 L733.44 870 L734.44 870 L735.44 870 L736.44 870 L737.44 870 L738.44 870 L739.44 870 L740.44 870 L741.44 870 L742.44 870 L743.44 870 L744.44 870 L745.44 870 L746.44 870 L747.44 870 L748.44 870 L749.44 870 L750.44 870 L751.44 870 L752.44 870 L753.3 870" stroke="#ff0000" stroke-width="7.0"/>
</g>
<g fill="none" stroke-dasharray="1.95 4.1">
<path d="M147 343.2 H203.4" stroke="#ff0000" stroke-width="7"/>
<path d="M147 389 H203.4" stroke="#ff0000" stroke-width="4.9"/>
<path d="M147 434.7 H203.4" stroke="#ff00ff" stroke-width="5.2"/>
</g>
<path d="M101.2 856.8 L97.3 858.1 L94.7 862 L93.4 868.5 L93.4 872.4 L94.7 878.9 L97.3 882.8 L101.2 884.1 L103.8 884.1 L107.7 882.8 L110.3 878.9 L111.6 872.4 L111.6 868.5 L110.3 862 L107.7 858.1 L103.8 856.8 L101.2 856.8 M101.2 856.8 L98.6 858.1 L97.3 859.4 L96 862 L94.7 868.5 L94.7 872.4 L96 878.9 L97.3 881.5 L98.6 882.8 L101.2 884.1 M103.8 884.1 L106.4 882.8 L107.7 881.5 L109 878.9 L110.3 872.4 L110.3 868.5 L109 862 L107.7 859.4 L106.4 858.1 L103.8 856.8" fill="none" stroke="#000" stroke-width="1.6" stroke-linecap="round" stroke-linejoin="round"/>
<path d="M62.2 742.3 L58.3 743.6 L55.7 747.5 L54.4 754 L54.4 757.9 L55.7 764.4 L58.3 768.3 L62.2 769.6 L64.8 769.6 L68.7 768.3 L71.3 764.4 L72.6 757.9 L72.6 754 L71.3 747.5 L68.7 743.6 L64.8 742.3 L62.2 742.3 M62.2 742.3 L59.6 743.6 L58.3 744.9 L57 747.5 L55.7 754 L55.7 757.9 L57 764.4 L58.3 767 L59.6 768.3 L62.2 769.6 M64.8 769.6 L67.4 768.3 L68.7 767 L70 764.4 L71.3 757.9 L71.3 754 L70 747.5 L68.7 744.9 L67.4 743.6 L64.8 742.3 M83 767 L81.7 768.3 L83 769.6 L84.3 768.3 L83 767 M96 742.3 L93.4 755.3 M93.4 755.3 L96 752.7 L99.9 751.4 L103.8 751.4 L107.7 752.7 L110.3 755.3 L111.6 759.2 L111.6 761.8 L110.3 765.7 L107.7 768.3 L103.8 769.6 L99.9 769.6 L96 768.3 L94.7 767 L93.4 764.4 L93.4 763.1 L94.7 761.8 L96 763.1 L94.7 764.4 M103.8 751.4 L106.4 752.7 L109 755.3 L110.3 759.2 L110.3 761.8 L109 765.7 L106.4 768.3 L103.8 769.6 M96 742.3 L109 742.3 M96 743.6 L102.5 743.6 L109 742.3" fill="none" stroke="#000" stroke-width="1.6" stroke-linecap="round" stroke-linejoin="round"/>
<path d="M97.3 633 L99.9 631.7 L103.8 627.8 L103.8 655.1 M102.5 629.1 L102.5 655.1 M97.3 655.1 L109 655.1" fill="none" stroke="#000" stroke-width="1.6" stroke-linecap="round" stroke-linejoin="round"/>
<path d="M58.3 518.5 L60.9 517.2 L64.8 513.3 L64.8 540.6 M63.5 514.6 L63.5 540.6 M58.3 540.6 L70 540.6 M83 538 L81.7 539.3 L83 540.6 L84.3 539.3 L83 538 M96 513.3 L93.4 526.3 M93.4 526.3 L96 523.7 L99.9 522.4 L103.8 522.4 L107.7 523.7 L110.3 526.3 L111.6 530.2 L111.6 532.8 L110.3 536.7 L107.7 539.3 L103.8 540.6 L99.9 540.6 L96 539.3 L94.7 538 L93.4 535.4 L93.4 534.1 L94.7 532.8 L96 534.1 L94.7 535.4 M103.8 522.4 L106.4 523.7 L109 526.3 L110.3 530.2 L110.3 532.8 L109 536.7 L106.4 539.3 L103.8 540.6 M96 513.3 L109 513.3 M96 514.6 L102.5 514.6 L109 513.3" fill="none" stroke="#000" stroke-width="1.6" stroke-linecap="round" stroke-linejoin="round"/>
<path d="M94.7 404 L96 405.3 L94.7 406.6 L93.4 405.3 L93.4 404 L94.7 401.4 L96 400.1 L99.9 398.8 L105.1 398.8 L109 400.1 L110.3 401.4 L111.6 404 L111.6 406.6 L110.3 409.2 L106.4 411.8 L99.9 414.4 L97.3 415.7 L94.7 418.3 L93.4 422.2 L93.4 426.1 M105.1 398.8 L107.7 400.1 L109 401.4 L110.3 404 L110.3 406.6 L109 409.2 L105.1 411.8 L99.9 414.4 M93.4 423.5 L94.7 422.2 L97.3 422.2 L103.8 424.8 L107.7 424.8 L110.3 423.5 L111.6 422.2 M97.3 422.2 L103.8 426.1 L109 426.1 L110.3 424.8 L111.6 422.2 L111.6 419.6" fill="none" stroke="#000" stroke-width="1.6" stroke-linecap="round" stroke-linejoin="round"/>
<path d="M55.7 289.5 L57 290.8 L55.7 292.1 L54.4 290.8 L54.4 289.5 L55.7 286.9 L57 285.6 L60.9 284.3 L66.1 284.3 L70 285.6 L71.3 286.9 L72.6 289.5 L72.6 292.1 L71.3 294.7 L67.4 297.3 L60.9 299.9 L58.3 301.2 L55.7 303.8 L54.4 307.7 L54.4 311.6 M66.1 284.3 L68.7 285.6 L70 286.9 L71.3 289.5 L71.3 292.1 L70 294.7 L66.1 297.3 L60.9 299.9 M54.4 309 L55.7 307.7 L58.3 307.7 L64.8 310.3 L68.7 310.3 L71.3 309 L72.6 307.7 M58.3 307.7 L64.8 311.6 L70 311.6 L71.3 310.3 L72.6 307.7 L72.6 305.1 M83 309 L81.7 310.3 L83 311.6 L84.3 310.3 L83 309 M96 284.3 L93.4 297.3 M93.4 297.3 L96 294.7 L99.9 293.4 L103.8 293.4 L107.7 294.7 L110.3 297.3 L111.6 301.2 L111.6 303.8 L110.3 307.7 L107.7 310.3 L103.8 311.6 L99.9 311.6 L96 310.3 L94.7 309 L93.4 306.4 L93.4 305.1 L94.7 303.8 L96 305.1 L94.7 306.4 M103.8 293.4 L106.4 294.7 L109 297.3 L110.3 301.2 L110.3 303.8 L109 307.7 L106.4 310.3 L103.8 311.6 M96 284.3 L109 284.3 M96 285.6 L102.5 285.6 L109 284.3" fill="none" stroke="#000" stroke-width="1.6" stroke-linecap="round" stroke-linejoin="round"/>
<path d="M131.6 894.4 L127.7 895.7 L125.1 899.6 L123.8 906.1 L123.8 910 L125.1 916.5 L127.7 920.4 L131.6 921.7 L134.2 921.7 L138.1 920.4 L140.7 916.5 L142 910 L142 906.1 L140.7 899.6 L138.1 895.7 L134.2 894.4 L131.6 894.4 M131.6 894.4 L129 895.7 L127.7 897 L126.4 899.6 L125.1 906.1 L125.1 910 L126.4 916.5 L127.7 919.1 L129 920.4 L131.6 921.7 M134.2 921.7 L136.8 920.4 L138.1 919.1 L139.4 916.5 L140.7 910 L140.7 906.1 L139.4 899.6 L138.1 897 L136.8 895.7 L134.2 894.4" fill="none" stroke="#000" stroke-width="1.6" stroke-linecap="round" stroke-linejoin="round"/>
<path d="M271.9 899.6 L274.5 898.3 L278.4 894.4 L278.4 921.7 M277.1 895.7 L277.1 921.7 M271.9 921.7 L283.6 921.7" fill="none" stroke="#000" stroke-width="1.6" stroke-linecap="round" stroke-linejoin="round"/>
<path d="M413.5 899.6 L414.8 900.9 L413.5 902.2 L412.2 900.9 L412.2 899.6 L413.5 897 L414.8 895.7 L418.7 894.4 L423.9 894.4 L427.8 895.7 L429.1 897 L430.4 899.6 L430.4 902.2 L429.1 904.8 L425.2 907.4 L418.7 910 L416.1 911.3 L413.5 913.9 L412.2 917.8 L412.2 921.7 M423.9 894.4 L426.5 895.7 L427.8 897 L429.1 899.6 L429.1 902.2 L427.8 904.8 L423.9 907.4 L418.7 910 M412.2 919.1 L413.5 917.8 L416.1 917.8 L422.6 920.4 L426.5 920.4 L429.1 919.1 L430.4 917.8 M416.1 917.8 L422.6 921.7 L427.8 921.7 L429.1 920.4 L430.4 917.8 L430.4 915.2" fill="none" stroke="#000" stroke-width="1.6" stroke-linecap="round" stroke-linejoin="round"/>
<path d="M557.7 899.6 L559 900.9 L557.7 902.2 L556.4 900.9 L556.4 899.6 L557.7 897 L559 895.7 L562.9 894.4 L568.1 894.4 L572 895.7 L573.3 898.3 L573.3 902.2 L572 904.8 L568.1 906.1 L564.2 906.1 M568.1 894.4 L570.7 895.7 L572 898.3 L572 902.2 L570.7 904.8 L568.1 906.1 M568.1 906.1 L570.7 907.4 L573.3 910 L574.6 912.6 L574.6 916.5 L573.3 919.1 L572 920.4 L568.1 921.7 L562.9 921.7 L559 920.4 L557.7 919.1 L556.4 916.5 L556.4 915.2 L557.7 913.9 L559 915.2 L557.7 916.5 M572 908.7 L573.3 912.6 L573.3 916.5 L572 919.1 L570.7 920.4 L568.1 921.7" fill="none" stroke="#000" stroke-width="1.6" stroke-linecap="round" stroke-linejoin="round"/>
<path d="M712.3 897 L712.3 921.7 M713.6 894.4 L713.6 921.7 M713.6 894.4 L699.3 913.9 L720.1 913.9 M708.4 921.7 L717.5 921.7" fill="none" stroke="#000" stroke-width="1.6" stroke-linecap="round" stroke-linejoin="round"/>
<path d="M208.6 281.22 L193.72 289.5 L208.6 297.78 M216.97 278.46 L216.97 297.78 M217.9 278.46 L217.9 297.78 M214.18 278.46 L217.9 278.46 M214.18 297.78 L220.69 297.78 M227.2 284.9 L227.2 297.78 M228.13 284.9 L228.13 297.78 M228.13 287.66 L229.99 285.82 L232.78 284.9 L234.64 284.9 L237.43 285.82 L238.36 287.66 L238.36 297.78 M234.64 284.9 L236.5 285.82 L237.43 287.66 L237.43 297.78 M238.36 287.66 L240.22 285.82 L243.01 284.9 L244.87 284.9 L247.66 285.82 L248.59 287.66 L248.59 297.78 M244.87 284.9 L246.73 285.82 L247.66 287.66 L247.66 297.78 M224.41 284.9 L228.13 284.9 M224.41 297.78 L230.92 297.78 M234.64 297.78 L241.15 297.78 M244.87 297.78 L251.38 297.78 M256.96 281.22 L271.84 289.5 L256.96 297.78 M294.16 281.22 L309.04 289.5 L294.16 297.78 M336.01 278.46 L333.22 279.38 L331.36 282.14 L330.43 286.74 L330.43 289.5 L331.36 294.1 L333.22 296.86 L336.01 297.78 L337.87 297.78 L340.66 296.86 L342.52 294.1 L343.45 289.5 L343.45 286.74 L342.52 282.14 L340.66 279.38 L337.87 278.46 L336.01 278.46 M336.01 278.46 L334.15 279.38 L333.22 280.3 L332.29 282.14 L331.36 286.74 L331.36 289.5 L332.29 294.1 L333.22 295.94 L334.15 296.86 L336.01 297.78 M337.87 297.78 L339.73 296.86 L340.66 295.94 L341.59 294.1 L342.52 289.5 L342.52 286.74 L341.59 282.14 L340.66 280.3 L339.73 279.38 L337.87 278.46 M350.89 295.94 L349.96 296.86 L350.89 297.78 L351.82 296.86 L350.89 295.94 M366.7 280.3 L366.7 297.78 M367.63 278.46 L367.63 297.78 M367.63 278.46 L357.4 292.26 L372.28 292.26 M363.91 297.78 L370.42 297.78 M382.51 278.46 L379.72 279.38 L377.86 282.14 L376.93 286.74 L376.93 289.5 L377.86 294.1 L379.72 296.86 L382.51 297.78 L384.37 297.78 L387.16 296.86 L389.02 294.1 L389.95 289.5 L389.95 286.74 L389.02 282.14 L387.16 279.38 L384.37 278.46 L382.51 278.46 M382.51 278.46 L380.65 279.38 L379.72 280.3 L378.79 282.14 L377.86 286.74 L377.86 289.5 L378.79 294.1 L379.72 295.94 L380.65 296.86 L382.51 297.78 M384.37 297.78 L386.23 296.86 L387.16 295.94 L388.09 294.1 L389.02 289.5 L389.02 286.74 L388.09 282.14 L387.16 280.3 L386.23 279.38 L384.37 278.46" fill="none" stroke="#000" stroke-width="1.2" stroke-linecap="round" stroke-linejoin="round"/>
<path d="M608.8 324.11 L608.8 342.91 M609.72 324.11 L609.72 342.91 M608.8 333.06 L606.96 331.27 L605.12 330.38 L603.28 330.38 L600.52 331.27 L598.68 333.06 L597.76 335.75 L597.76 337.54 L598.68 340.22 L600.52 342.01 L603.28 342.91 L605.12 342.91 L606.96 342.01 L608.8 340.22 M603.28 330.38 L601.44 331.27 L599.6 333.06 L598.68 335.75 L598.68 337.54 L599.6 340.22 L601.44 342.01 L603.28 342.91 M606.04 324.11 L609.72 324.11 M608.8 342.91 L612.48 342.91 M618.92 332.17 L618.92 333.06 L618 333.06 L618 332.17 L618.92 331.27 L620.76 330.38 L624.44 330.38 L626.28 331.27 L627.2 332.17 L628.12 333.96 L628.12 340.22 L629.04 342.01 L629.96 342.91 M627.2 332.17 L627.2 340.22 L628.12 342.01 L629.96 342.91 L630.88 342.91 M627.2 333.96 L626.28 334.85 L620.76 335.75 L618 336.64 L617.08 338.43 L617.08 340.22 L618 342.01 L620.76 342.91 L623.52 342.91 L625.36 342.01 L627.2 340.22 M620.76 335.75 L618.92 336.64 L618 338.43 L618 340.22 L618.92 342.01 L620.76 342.91 M637.32 324.11 L637.32 339.33 L638.24 342.01 L640.08 342.91 L641.92 342.91 L643.76 342.01 L644.68 340.22 M638.24 324.11 L638.24 339.33 L639.16 342.01 L640.08 342.91 M634.56 330.38 L641.92 330.38 M651.12 332.17 L651.12 333.06 L650.2 333.06 L650.2 332.17 L651.12 331.27 L652.96 330.38 L656.64 330.38 L658.48 331.27 L659.4 332.17 L660.32 333.96 L660.32 340.22 L661.24 342.01 L662.16 342.91 M659.4 332.17 L659.4 340.22 L660.32 342.01 L662.16 342.91 L663.08 342.91 M659.4 333.96 L658.48 334.85 L652.96 335.75 L650.2 336.64 L649.28 338.43 L649.28 340.22 L650.2 342.01 L652.96 342.91 L655.72 342.91 L657.56 342.01 L659.4 340.22 M652.96 335.75 L651.12 336.64 L650.2 338.43 L650.2 340.22 L651.12 342.01 L652.96 342.91" fill="none" stroke="#00ff00" stroke-width="1.9" stroke-linecap="round" stroke-linejoin="round"/>
<path d="M599.6 365.12 L599.6 377.66 M600.52 365.12 L600.52 377.66 M600.52 367.81 L602.36 366.02 L605.12 365.12 L606.96 365.12 L609.72 366.02 L610.64 367.81 L610.64 377.66 M606.96 365.12 L608.8 366.02 L609.72 367.81 L609.72 377.66 M610.64 367.81 L612.48 366.02 L615.24 365.12 L617.08 365.12 L619.84 366.02 L620.76 367.81 L620.76 377.66 M617.08 365.12 L618.92 366.02 L619.84 367.81 L619.84 377.66 M596.84 365.12 L600.52 365.12 M596.84 377.66 L603.28 377.66 M606.96 377.66 L613.4 377.66 M617.08 377.66 L623.52 377.66 M633.64 365.12 L630.88 366.02 L629.04 367.81 L628.12 370.5 L628.12 372.29 L629.04 374.97 L630.88 376.76 L633.64 377.66 L635.48 377.66 L638.24 376.76 L640.08 374.97 L641 372.29 L641 370.5 L640.08 367.81 L638.24 366.02 L635.48 365.12 L633.64 365.12 M633.64 365.12 L631.8 366.02 L629.96 367.81 L629.04 370.5 L629.04 372.29 L629.96 374.97 L631.8 376.76 L633.64 377.66 M635.48 377.66 L637.32 376.76 L639.16 374.97 L640.08 372.29 L640.08 370.5 L639.16 367.81 L637.32 366.02 L635.48 365.12 M657.56 358.86 L657.56 377.66 M658.48 358.86 L658.48 377.66 M657.56 367.81 L655.72 366.02 L653.88 365.12 L652.04 365.12 L649.28 366.02 L647.44 367.81 L646.52 370.5 L646.52 372.29 L647.44 374.97 L649.28 376.76 L652.04 377.66 L653.88 377.66 L655.72 376.76 L657.56 374.97 M652.04 365.12 L650.2 366.02 L648.36 367.81 L647.44 370.5 L647.44 372.29 L648.36 374.97 L650.2 376.76 L652.04 377.66 M654.8 358.86 L658.48 358.86 M657.56 377.66 L661.24 377.66 M666.76 370.5 L677.8 370.5 L677.8 368.71 L676.88 366.92 L675.96 366.02 L674.12 365.12 L671.36 365.12 L668.6 366.02 L666.76 367.81 L665.84 370.5 L665.84 372.29 L666.76 374.97 L668.6 376.76 L671.36 377.66 L673.2 377.66 L675.96 376.76 L677.8 374.97 M676.88 370.5 L676.88 367.81 L675.96 366.02 M671.36 365.12 L669.52 366.02 L667.68 367.81 L666.76 370.5 L666.76 372.29 L667.68 374.97 L669.52 376.76 L671.36 377.66 M685.16 358.86 L685.16 377.66 M686.08 358.86 L686.08 377.66 M682.4 358.86 L686.08 358.86 M682.4 377.66 L688.84 377.66" fill="none" stroke="#0000ff" stroke-width="1.3" stroke-linecap="round" stroke-linejoin="round"/>
<path d="M31.1 547.2 L29.8 548.5 L31.1 549.8 L32.4 548.5 L32.4 547.2 L31.1 545.9 L28.5 545.9 L25.9 547.2 L24.6 549.8 L24.6 573.2 M28.5 545.9 L27.2 547.2 L25.9 549.8 L25.9 573.2 M20.7 555 L31.1 555 M20.7 573.2 L29.8 573.2" fill="none" stroke="#000" stroke-width="1.6" stroke-linecap="round" stroke-linejoin="round"/>
<path d="M41.8 574.11 L39.46 574.89 L37.9 576.45 L37.12 578.01 L36.34 580.35 L36.34 582.69 L37.12 584.25 L39.46 585.03 L41.02 585.03 L42.58 584.25 L44.92 581.91 L46.48 579.57 L48.04 576.45 L48.82 574.11 M41.8 574.11 L40.24 574.89 L38.68 576.45 L37.9 578.01 L37.12 580.35 L37.12 582.69 L37.9 584.25 L39.46 585.03 M41.8 574.11 L43.36 574.11 L44.92 574.89 L45.7 576.45 L47.26 582.69 L48.04 584.25 L48.82 585.03 M43.36 574.11 L44.14 574.89 L44.92 576.45 L46.48 582.69 L47.26 584.25 L48.82 585.03 L49.6 585.03" fill="none" stroke="#000" stroke-width="1.6" stroke-linecap="round" stroke-linejoin="round"/>
<path d="M440.55 945 L436.65 946.3 L434.05 948.9 L432.75 951.5 L431.45 955.4 L431.45 959.3 L432.75 961.9 L436.65 963.2 L439.25 963.2 L441.85 961.9 L445.75 958 L448.35 954.1 L450.95 948.9 L452.25 945 M440.55 945 L437.95 946.3 L435.35 948.9 L434.05 951.5 L432.75 955.4 L432.75 959.3 L434.05 961.9 L436.65 963.2 M440.55 945 L443.15 945 L445.75 946.3 L447.05 948.9 L449.65 959.3 L450.95 961.9 L452.25 963.2 M443.15 945 L444.45 946.3 L445.75 948.9 L448.35 959.3 L449.65 961.9 L452.25 963.2 L453.55 963.2" fill="none" stroke="#000" stroke-width="1.6" stroke-linecap="round" stroke-linejoin="round"/>
<path d="M222.88 333.52 L214.79 338.17 L222.88 342.86 M231.9 335.11 L230.67 335.69 L229.38 336.84 L228.66 338 L227.88 339.73 L227.67 341.47 L228.11 342.62 L229.19 343.2 L230.35 343.2 L231.58 342.62 L233.52 340.89 L234.88 339.16 L236.31 336.84 L237.1 335.11 M231.9 335.11 L233.05 335.11 L233.56 335.69 L234 336.84 L234.6 341.47 L235.04 342.62 L235.55 343.2 L236.13 343.2 M241.96 333.52 L250.05 338.17 L241.96 342.86 M256 336.27 L264.67 336.27 M256 339.97 L264.67 339.97 M270.28 333.38 L270.86 333.95 L270.28 334.53 L269.7 333.95 L269.7 333.38 L270.28 332.22 L270.86 331.64 L272.59 331.06 L274.9 331.06 L276.64 331.64 L277.21 332.22 L277.79 333.38 L277.79 334.53 L277.21 335.69 L275.48 336.84 L272.59 338 L271.43 338.58 L270.28 339.73 L269.7 341.47 L269.7 343.2 M274.9 331.06 L276.06 331.64 L276.64 332.22 L277.21 333.38 L277.21 334.53 L276.64 335.69 L274.9 336.84 L272.59 338 M269.7 342.05 L270.28 341.47 L271.43 341.47 L274.32 342.62 L276.06 342.62 L277.21 342.05 L277.79 341.47 M271.43 341.47 L274.32 343.2 L276.64 343.2 L277.21 342.62 L277.79 341.47 L277.79 340.31 M282.42 342.05 L281.84 342.62 L282.42 343.2 L282.99 342.62 L282.42 342.05 M287.62 333.38 L288.2 333.95 L287.62 334.53 L287.04 333.95 L287.04 333.38 L287.62 332.22 L288.2 331.64 L289.93 331.06 L292.24 331.06 L293.98 331.64 L294.55 332.8 L294.55 334.53 L293.98 335.69 L292.24 336.27 L290.51 336.27 M292.24 331.06 L293.4 331.64 L293.98 332.8 L293.98 334.53 L293.4 335.69 L292.24 336.27 M292.24 336.27 L293.4 336.84 L294.55 338 L295.13 339.16 L295.13 340.89 L294.55 342.05 L293.98 342.62 L292.24 343.2 L289.93 343.2 L288.2 342.62 L287.62 342.05 L287.04 340.89 L287.04 340.31 L287.62 339.73 L288.2 340.31 L287.62 340.89 M293.98 337.42 L294.55 339.16 L294.55 340.89 L293.98 342.05 L293.4 342.62 L292.24 343.2 M305.54 332.8 L304.96 333.38 L305.54 333.95 L306.11 333.38 L306.11 332.8 L305.54 331.64 L304.38 331.06 L302.65 331.06 L300.91 331.64 L299.76 332.8 L299.18 333.95 L298.6 336.27 L298.6 339.73 L299.18 341.47 L300.33 342.62 L302.07 343.2 L303.22 343.2 L304.96 342.62 L306.11 341.47 L306.69 339.73 L306.69 339.16 L306.11 337.42 L304.96 336.27 L303.22 335.69 L302.65 335.69 L300.91 336.27 L299.76 337.42 L299.18 339.16 M302.65 331.06 L301.49 331.64 L300.33 332.8 L299.76 333.95 L299.18 336.27 L299.18 339.73 L299.76 341.47 L300.91 342.62 L302.07 343.2 M303.22 343.2 L304.38 342.62 L305.54 341.47 L306.11 339.73 L306.11 339.16 L305.54 337.42 L304.38 336.27 L303.22 335.69 M311.89 342.62 L311.32 343.2 L310.74 342.62 L311.32 342.05 L311.89 342.62 L311.89 343.78 L311.32 344.94 L310.74 345.51 M333.63 335.11 L327.85 335.11 L326.56 335.69 L325.15 336.84 L324.19 338.58 L323.81 340.31 L324.01 342.05 L324.46 342.62 L325.49 343.2 L326.64 343.2 L327.93 342.62 L329.34 341.47 L330.3 339.73 L330.68 338 L330.48 336.27 L330.03 335.69 L329 335.11 M337.53 343.78 L336.8 344.13 L336.02 344.82 L335.59 345.51 L335.12 346.55 L335 347.59 L335.26 348.29 L335.91 348.64 L336.6 348.64 L337.34 348.29 L338.51 347.25 L339.32 346.21 L340.18 344.82 L340.66 343.78 M337.53 343.78 L338.23 343.78 L338.53 344.13 L338.8 344.82 L339.16 347.59 L339.42 348.29 L339.73 348.64 L340.07 348.64 M344.9 336.27 L353.57 336.27 M344.9 339.97 L353.57 339.97 M362.06 331.06 L360.33 331.64 L359.17 333.38 L358.6 336.27 L358.6 338 L359.17 340.89 L360.33 342.62 L362.06 343.2 L363.22 343.2 L364.95 342.62 L366.11 340.89 L366.69 338 L366.69 336.27 L366.11 333.38 L364.95 331.64 L363.22 331.06 L362.06 331.06 M362.06 331.06 L360.91 331.64 L360.33 332.22 L359.75 333.38 L359.17 336.27 L359.17 338 L359.75 340.89 L360.33 342.05 L360.91 342.62 L362.06 343.2 M363.22 343.2 L364.38 342.62 L364.95 342.05 L365.53 340.89 L366.11 338 L366.11 336.27 L365.53 333.38 L364.95 332.22 L364.38 331.64 L363.22 331.06 M371.31 342.05 L370.73 342.62 L371.31 343.2 L371.89 342.62 L371.31 342.05 M376.51 333.38 L377.09 333.95 L376.51 334.53 L375.94 333.95 L375.94 333.38 L376.51 332.22 L377.09 331.64 L378.83 331.06 L381.14 331.06 L382.87 331.64 L383.45 332.8 L383.45 334.53 L382.87 335.69 L381.14 336.27 L379.4 336.27 M381.14 331.06 L382.29 331.64 L382.87 332.8 L382.87 334.53 L382.29 335.69 L381.14 336.27 M381.14 336.27 L382.29 336.84 L383.45 338 L384.03 339.16 L384.03 340.89 L383.45 342.05 L382.87 342.62 L381.14 343.2 L378.83 343.2 L377.09 342.62 L376.51 342.05 L375.94 340.89 L375.94 340.31 L376.51 339.73 L377.09 340.31 L376.51 340.89 M382.87 337.42 L383.45 339.16 L383.45 340.89 L382.87 342.05 L382.29 342.62 L381.14 343.2 M394.43 332.8 L393.85 333.38 L394.43 333.95 L395.01 333.38 L395.01 332.8 L394.43 331.64 L393.28 331.06 L391.54 331.06 L389.81 331.64 L388.65 332.8 L388.07 333.95 L387.5 336.27 L387.5 339.73 L388.07 341.47 L389.23 342.62 L390.96 343.2 L392.12 343.2 L393.85 342.62 L395.01 341.47 L395.59 339.73 L395.59 339.16 L395.01 337.42 L393.85 336.27 L392.12 335.69 L391.54 335.69 L389.81 336.27 L388.65 337.42 L388.07 339.16 M391.54 331.06 L390.39 331.64 L389.23 332.8 L388.65 333.95 L388.07 336.27 L388.07 339.73 L388.65 341.47 L389.81 342.62 L390.96 343.2 M392.12 343.2 L393.28 342.62 L394.43 341.47 L395.01 339.73 L395.01 339.16 L394.43 337.42 L393.28 336.27 L392.12 335.69" fill="none" stroke="#000" stroke-width="1.25" stroke-linecap="round" stroke-linejoin="round"/>
<path d="M218.33 385.81 L217.1 386.39 L215.81 387.54 L215.09 388.7 L214.3 390.43 L214.1 392.17 L214.54 393.32 L215.62 393.9 L216.78 393.9 L218 393.32 L219.95 391.59 L221.31 389.86 L222.74 387.54 L223.53 385.81 M218.33 385.81 L219.48 385.81 L219.99 386.39 L220.43 387.54 L221.03 392.17 L221.47 393.32 L221.98 393.9 L222.56 393.9 M228.96 392.4 L228.62 392.75 L228.96 393.09 L229.31 392.75 L229.31 392.4 L228.96 392.05 L228.27 392.05 L227.57 392.4 L227.23 393.09 L227.23 399.34 M228.27 392.05 L227.92 392.4 L227.57 393.09 L227.57 399.34 M226.19 394.48 L228.96 394.48 M226.19 399.34 L228.62 399.34 M233.07 386.97 L241.74 386.97 M233.07 390.67 L241.74 390.67 M247.34 384.08 L247.92 384.65 L247.34 385.23 L246.76 384.65 L246.76 384.08 L247.34 382.92 L247.92 382.34 L249.65 381.76 L251.97 381.76 L253.7 382.34 L254.28 382.92 L254.86 384.08 L254.86 385.23 L254.28 386.39 L252.54 387.54 L249.65 388.7 L248.5 389.28 L247.34 390.43 L246.76 392.17 L246.76 393.9 M251.97 381.76 L253.12 382.34 L253.7 382.92 L254.28 384.08 L254.28 385.23 L253.7 386.39 L251.97 387.54 L249.65 388.7 M246.76 392.75 L247.34 392.17 L248.5 392.17 L251.39 393.32 L253.12 393.32 L254.28 392.75 L254.86 392.17 M248.5 392.17 L251.39 393.9 L253.7 393.9 L254.28 393.32 L254.86 392.17 L254.86 391.01 M259.48 392.75 L258.9 393.32 L259.48 393.9 L260.06 393.32 L259.48 392.75 M264.68 384.08 L265.26 384.65 L264.68 385.23 L264.1 384.65 L264.1 384.08 L264.68 382.92 L265.26 382.34 L266.99 381.76 L269.31 381.76 L271.04 382.34 L271.62 383.5 L271.62 385.23 L271.04 386.39 L269.31 386.97 L267.57 386.97 M269.31 381.76 L270.46 382.34 L271.04 383.5 L271.04 385.23 L270.46 386.39 L269.31 386.97 M269.31 386.97 L270.46 387.54 L271.62 388.7 L272.2 389.86 L272.2 391.59 L271.62 392.75 L271.04 393.32 L269.31 393.9 L266.99 393.9 L265.26 393.32 L264.68 392.75 L264.1 391.59 L264.1 391.01 L264.68 390.43 L265.26 391.01 L264.68 391.59 M271.04 388.12 L271.62 389.86 L271.62 391.59 L271.04 392.75 L270.46 393.32 L269.31 393.9 M282.6 383.5 L282.02 384.08 L282.6 384.65 L283.18 384.08 L283.18 383.5 L282.6 382.34 L281.44 381.76 L279.71 381.76 L277.98 382.34 L276.82 383.5 L276.24 384.65 L275.66 386.97 L275.66 390.43 L276.24 392.17 L277.4 393.32 L279.13 393.9 L280.29 393.9 L282.02 393.32 L283.18 392.17 L283.76 390.43 L283.76 389.86 L283.18 388.12 L282.02 386.97 L280.29 386.39 L279.71 386.39 L277.98 386.97 L276.82 388.12 L276.24 389.86 M279.71 381.76 L278.55 382.34 L277.4 383.5 L276.82 384.65 L276.24 386.97 L276.24 390.43 L276.82 392.17 L277.98 393.32 L279.13 393.9 M280.29 393.9 L281.44 393.32 L282.6 392.17 L283.18 390.43 L283.18 389.86 L282.6 388.12 L281.44 386.97 L280.29 386.39 M288.96 393.32 L288.38 393.9 L287.8 393.32 L288.38 392.75 L288.96 393.32 L288.96 394.48 L288.38 395.64 L287.8 396.21 M310.69 385.81 L304.91 385.81 L303.63 386.39 L302.22 387.54 L301.26 389.28 L300.88 391.01 L301.07 392.75 L301.52 393.32 L302.55 393.9 L303.71 393.9 L304.99 393.32 L306.4 392.17 L307.36 390.43 L307.74 388.7 L307.55 386.97 L307.1 386.39 L306.07 385.81 M314.6 394.48 L313.86 394.83 L313.09 395.52 L312.66 396.21 L312.18 397.25 L312.06 398.29 L312.32 398.99 L312.98 399.34 L313.67 399.34 L314.4 398.99 L315.57 397.95 L316.39 396.91 L317.25 395.52 L317.72 394.48 M314.6 394.48 L315.29 394.48 L315.6 394.83 L315.86 395.52 L316.22 398.29 L316.49 398.99 L316.79 399.34 L317.14 399.34 M320.98 398.99 L320.63 399.34 L320.29 398.99 L320.63 398.64 L320.98 398.99 L320.98 399.68 L320.63 400.38 L320.29 400.72 M325.83 392.4 L325.49 392.75 L325.83 393.09 L326.18 392.75 L326.18 392.4 L325.83 392.05 L325.14 392.05 L324.45 392.4 L324.1 393.09 L324.1 399.34 M325.14 392.05 L324.79 392.4 L324.45 393.09 L324.45 399.34 M323.06 394.48 L325.83 394.48 M323.06 399.34 L325.49 399.34 M329.94 386.97 L338.61 386.97 M329.94 390.67 L338.61 390.67 M347.11 381.76 L345.37 382.34 L344.22 384.08 L343.64 386.97 L343.64 388.7 L344.22 391.59 L345.37 393.32 L347.11 393.9 L348.26 393.9 L350 393.32 L351.15 391.59 L351.73 388.7 L351.73 386.97 L351.15 384.08 L350 382.34 L348.26 381.76 L347.11 381.76 M347.11 381.76 L345.95 382.34 L345.37 382.92 L344.79 384.08 L344.22 386.97 L344.22 388.7 L344.79 391.59 L345.37 392.75 L345.95 393.32 L347.11 393.9 M348.26 393.9 L349.42 393.32 L350 392.75 L350.57 391.59 L351.15 388.7 L351.15 386.97 L350.57 384.08 L350 382.92 L349.42 382.34 L348.26 381.76 M356.35 392.75 L355.78 393.32 L356.35 393.9 L356.93 393.32 L356.35 392.75 M364.45 381.76 L362.71 382.34 L361.56 384.08 L360.98 386.97 L360.98 388.7 L361.56 391.59 L362.71 393.32 L364.45 393.9 L365.6 393.9 L367.34 393.32 L368.49 391.59 L369.07 388.7 L369.07 386.97 L368.49 384.08 L367.34 382.34 L365.6 381.76 L364.45 381.76 M364.45 381.76 L363.29 382.34 L362.71 382.92 L362.13 384.08 L361.56 386.97 L361.56 388.7 L362.13 391.59 L362.71 392.75 L363.29 393.32 L364.45 393.9 M365.6 393.9 L366.76 393.32 L367.34 392.75 L367.91 391.59 L368.49 388.7 L368.49 386.97 L367.91 384.08 L367.34 382.92 L366.76 382.34 L365.6 381.76 M375.43 381.76 L373.69 382.34 L373.12 383.5 L373.12 385.23 L373.69 386.39 L375.43 386.97 L377.74 386.97 L379.47 386.39 L380.05 385.23 L380.05 383.5 L379.47 382.34 L377.74 381.76 L375.43 381.76 M375.43 381.76 L374.27 382.34 L373.69 383.5 L373.69 385.23 L374.27 386.39 L375.43 386.97 M377.74 386.97 L378.9 386.39 L379.47 385.23 L379.47 383.5 L378.9 382.34 L377.74 381.76 M375.43 386.97 L373.69 387.54 L373.12 388.12 L372.54 389.28 L372.54 391.59 L373.12 392.75 L373.69 393.32 L375.43 393.9 L377.74 393.9 L379.47 393.32 L380.05 392.75 L380.63 391.59 L380.63 389.28 L380.05 388.12 L379.47 387.54 L377.74 386.97 M375.43 386.97 L374.27 387.54 L373.69 388.12 L373.12 389.28 L373.12 391.59 L373.69 392.75 L374.27 393.32 L375.43 393.9 M377.74 393.9 L378.9 393.32 L379.47 392.75 L380.05 391.59 L380.05 389.28 L379.47 388.12 L378.9 387.54 L377.74 386.97" fill="none" stroke="#000" stroke-width="1.25" stroke-linecap="round" stroke-linejoin="round"/>
<path d="M222.88 429.52 L214.79 434.17 L222.88 438.86 M231.9 431.11 L230.67 431.69 L229.38 432.84 L228.66 434 L227.88 435.73 L227.67 437.47 L228.11 438.62 L229.19 439.2 L230.35 439.2 L231.58 438.62 L233.52 436.89 L234.88 435.16 L236.31 432.84 L237.1 431.11 M231.9 431.11 L233.05 431.11 L233.56 431.69 L234 432.84 L234.6 437.47 L235.04 438.62 L235.55 439.2 L236.13 439.2 M241.96 429.52 L250.05 434.17 L241.96 438.86 M256 432.27 L264.67 432.27 M256 435.97 L264.67 435.97 M270.28 429.38 L270.86 429.95 L270.28 430.53 L269.7 429.95 L269.7 429.38 L270.28 428.22 L270.86 427.64 L272.59 427.06 L274.9 427.06 L276.64 427.64 L277.21 428.22 L277.79 429.38 L277.79 430.53 L277.21 431.69 L275.48 432.84 L272.59 434 L271.43 434.58 L270.28 435.73 L269.7 437.47 L269.7 439.2 M274.9 427.06 L276.06 427.64 L276.64 428.22 L277.21 429.38 L277.21 430.53 L276.64 431.69 L274.9 432.84 L272.59 434 M269.7 438.05 L270.28 437.47 L271.43 437.47 L274.32 438.62 L276.06 438.62 L277.21 438.05 L277.79 437.47 M271.43 437.47 L274.32 439.2 L276.64 439.2 L277.21 438.62 L277.79 437.47 L277.79 436.31 M282.42 438.05 L281.84 438.62 L282.42 439.2 L282.99 438.62 L282.42 438.05 M287.62 429.38 L288.2 429.95 L287.62 430.53 L287.04 429.95 L287.04 429.38 L287.62 428.22 L288.2 427.64 L289.93 427.06 L292.24 427.06 L293.98 427.64 L294.55 428.22 L295.13 429.38 L295.13 430.53 L294.55 431.69 L292.82 432.84 L289.93 434 L288.77 434.58 L287.62 435.73 L287.04 437.47 L287.04 439.2 M292.24 427.06 L293.4 427.64 L293.98 428.22 L294.55 429.38 L294.55 430.53 L293.98 431.69 L292.24 432.84 L289.93 434 M287.04 438.05 L287.62 437.47 L288.77 437.47 L291.66 438.62 L293.4 438.62 L294.55 438.05 L295.13 437.47 M288.77 437.47 L291.66 439.2 L293.98 439.2 L294.55 438.62 L295.13 437.47 L295.13 436.31 M302.07 427.06 L300.33 427.64 L299.18 429.38 L298.6 432.27 L298.6 434 L299.18 436.89 L300.33 438.62 L302.07 439.2 L303.22 439.2 L304.96 438.62 L306.11 436.89 L306.69 434 L306.69 432.27 L306.11 429.38 L304.96 427.64 L303.22 427.06 L302.07 427.06 M302.07 427.06 L300.91 427.64 L300.33 428.22 L299.76 429.38 L299.18 432.27 L299.18 434 L299.76 436.89 L300.33 438.05 L300.91 438.62 L302.07 439.2 M303.22 439.2 L304.38 438.62 L304.96 438.05 L305.54 436.89 L306.11 434 L306.11 432.27 L305.54 429.38 L304.96 428.22 L304.38 427.64 L303.22 427.06 M311.89 438.62 L311.32 439.2 L310.74 438.62 L311.32 438.05 L311.89 438.62 L311.89 439.78 L311.32 440.94 L310.74 441.51 M333.63 431.11 L327.85 431.11 L326.56 431.69 L325.15 432.84 L324.19 434.58 L323.81 436.31 L324.01 438.05 L324.46 438.62 L325.49 439.2 L326.64 439.2 L327.93 438.62 L329.34 437.47 L330.3 435.73 L330.68 434 L330.48 432.27 L330.03 431.69 L329 431.11 M337.53 439.78 L336.8 440.13 L336.02 440.82 L335.59 441.51 L335.12 442.55 L335 443.59 L335.26 444.29 L335.91 444.64 L336.6 444.64 L337.34 444.29 L338.51 443.25 L339.32 442.21 L340.18 440.82 L340.66 439.78 M337.53 439.78 L338.23 439.78 L338.53 440.13 L338.8 440.82 L339.16 443.59 L339.42 444.29 L339.73 444.64 L340.07 444.64 M344.9 432.27 L353.57 432.27 M344.9 435.97 L353.57 435.97 M362.06 427.06 L360.33 427.64 L359.17 429.38 L358.6 432.27 L358.6 434 L359.17 436.89 L360.33 438.62 L362.06 439.2 L363.22 439.2 L364.95 438.62 L366.11 436.89 L366.69 434 L366.69 432.27 L366.11 429.38 L364.95 427.64 L363.22 427.06 L362.06 427.06 M362.06 427.06 L360.91 427.64 L360.33 428.22 L359.75 429.38 L359.17 432.27 L359.17 434 L359.75 436.89 L360.33 438.05 L360.91 438.62 L362.06 439.2 M363.22 439.2 L364.38 438.62 L364.95 438.05 L365.53 436.89 L366.11 434 L366.11 432.27 L365.53 429.38 L364.95 428.22 L364.38 427.64 L363.22 427.06 M371.31 438.05 L370.73 438.62 L371.31 439.2 L371.89 438.62 L371.31 438.05 M382.87 428.8 L382.29 429.38 L382.87 429.95 L383.45 429.38 L383.45 428.8 L382.87 427.64 L381.72 427.06 L379.98 427.06 L378.25 427.64 L377.09 428.8 L376.51 429.95 L375.94 432.27 L375.94 435.73 L376.51 437.47 L377.67 438.62 L379.4 439.2 L380.56 439.2 L382.29 438.62 L383.45 437.47 L384.03 435.73 L384.03 435.16 L383.45 433.42 L382.29 432.27 L380.56 431.69 L379.98 431.69 L378.25 432.27 L377.09 433.42 L376.51 435.16 M379.98 427.06 L378.83 427.64 L377.67 428.8 L377.09 429.95 L376.51 432.27 L376.51 435.73 L377.09 437.47 L378.25 438.62 L379.4 439.2 M380.56 439.2 L381.72 438.62 L382.87 437.47 L383.45 435.73 L383.45 435.16 L382.87 433.42 L381.72 432.27 L380.56 431.69 M388.07 429.38 L388.65 429.95 L388.07 430.53 L387.5 429.95 L387.5 429.38 L388.07 428.22 L388.65 427.64 L390.39 427.06 L392.7 427.06 L394.43 427.64 L395.01 428.8 L395.01 430.53 L394.43 431.69 L392.7 432.27 L390.96 432.27 M392.7 427.06 L393.85 427.64 L394.43 428.8 L394.43 430.53 L393.85 431.69 L392.7 432.27 M392.7 432.27 L393.85 432.84 L395.01 434 L395.59 435.16 L395.59 436.89 L395.01 438.05 L394.43 438.62 L392.7 439.2 L390.39 439.2 L388.65 438.62 L388.07 438.05 L387.5 436.89 L387.5 436.31 L388.07 435.73 L388.65 436.31 L388.07 436.89 M394.43 433.42 L395.01 435.16 L395.01 436.89 L394.43 438.05 L393.85 438.62 L392.7 439.2" fill="none" stroke="#000" stroke-width="1.25" stroke-linecap="round" stroke-linejoin="round"/>
</svg></body></html>
